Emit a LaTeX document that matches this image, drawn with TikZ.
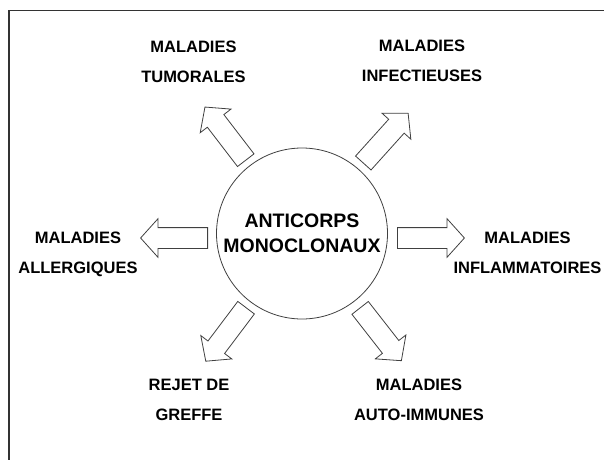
\documentclass[tikz,border=0pt]{standalone}
\usepackage{fontspec}
\setmainfont{Liberation Sans}
\usepackage{tikz}
\usetikzlibrary{shapes.arrows,calc}

\begin{document}
\begin{tikzpicture}[x=1pt, y=1pt,
    lbl/.style={font=\bfseries\fontsize{16.5}{30}\selectfont, align=center, inner sep=0pt},
    blk/.style={single arrow, draw=black!75, fill=white, line width=0.8pt,
      minimum height=67pt, minimum width=0pt, inner xsep=0pt, inner ysep=10pt,
      single arrow head extend=9pt, single arrow tip angle=96, anchor=tail}]
  \useasboundingbox (0,0) rectangle (604,459);
  % frame (right and bottom edges fall off the page)
  \draw[black!80, line width=1.4pt] (9,-4) |- (608,448.3);
  % centre
  \node[circle, draw=black!75, line width=0.8pt, minimum size=171pt, inner sep=0pt,
    font=\bfseries\fontsize{19.5}{25}\selectfont, align=center] (mab) at (302,225.5)
    {ANTICORPS\\MONOCLONAUX};
  % block arrows
  \node[blk, rotate=127.5] (aTum) at ($(mab.center)+(127.5:92)$) {};
  \node[blk, rotate=48] (aInf) at ($(mab.center)+(49:93)$) {};
  \node[blk, rotate=180] (aAll) at ($(mab.center)+(-94,-4.5)$) {};
  \node[blk, rotate=0] (aInfl) at ($(mab.center)+(95,-4.5)$) {};
  \node[blk, rotate=-127] (aRej) at ($(mab.center)+(-127:92.5)$) {};
  \node[blk, rotate=-52] (aAut) at ($(mab.center)+(-52:94)$) {};
  % labels
  \node[lbl] (tum) at (193.5,397.3) {MALADIES\\TUMORALES};
  \node[lbl] (inf) at (422,397.7) {MALADIES\\INFECTIEUSES};
  \node[lbl] (all) at (78,205) {MALADIES\\ALLERGIQUES};
  \node[lbl] (infl) at (527.5,206) {MALADIES\\INFLAMMATOIRES};
  \node[lbl] (rej) at (189,59) {REJET DE\\GREFFE};
  \node[lbl] (aut) at (419,59) {MALADIES\\AUTO-IMMUNES};
\end{tikzpicture}
\end{document}
